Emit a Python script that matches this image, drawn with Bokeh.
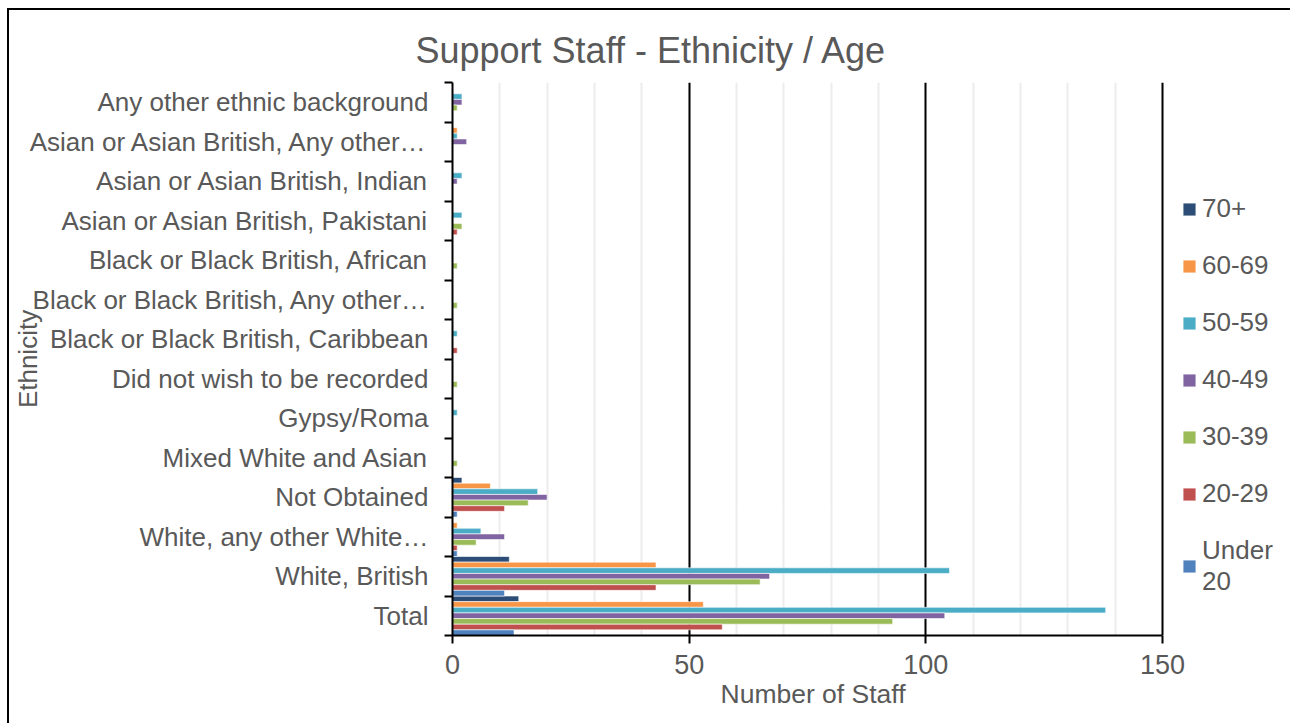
from bokeh.plotting import figure
from bokeh.models import (ColumnDataSource, FactorRange, Range1d, LinearAxis,
                          CategoricalAxis, FixedTicker, Legend, LegendItem, Title)
from bokeh.transform import dodge
from bokeh.embed import file_html
from bokeh.resources import INLINE

# Ethnic groups, listed top to bottom as they appear on the chart
ethnicities = [
    "Any other ethnic background",
    "Asian or Asian British, Any other\u2026",
    "Asian or Asian British, Indian",
    "Asian or Asian British, Pakistani",
    "Black or Black British, African",
    "Black or Black British, Any other\u2026",
    "Black or Black British, Caribbean",
    "Did not wish to be recorded",
    "Gypsy/Roma",
    "Mixed White and Asian",
    "Not Obtained",
    "White, any other White\u2026",
    "White, British",
    "Total",
]

# Age bands, in the order the bars are stacked inside each group (top first)
age_groups = ["70+", "60-69", "50-59", "40-49", "30-39", "20-29", "Under 20"]

# Staff counts per age band, one value per ethnic group (same order as above)
age_70_plus = [0, 0, 0, 0, 0, 0, 0, 0, 0, 0, 2, 0, 12, 14]
age_60_69 = [0, 1, 0, 0, 0, 0, 0, 0, 0, 0, 8, 1, 43, 53]
age_50_59 = [2, 1, 2, 2, 0, 0, 1, 0, 1, 0, 18, 6, 105, 138]
age_40_49 = [2, 3, 1, 0, 0, 0, 0, 0, 0, 0, 20, 11, 67, 104]
age_30_39 = [1, 0, 0, 2, 1, 1, 0, 1, 0, 1, 16, 5, 65, 93]
age_20_29 = [0, 0, 0, 1, 0, 0, 1, 0, 0, 0, 11, 1, 43, 57]
age_under_20 = [0, 0, 0, 0, 0, 0, 0, 0, 0, 0, 1, 1, 11, 13]

series = [age_70_plus, age_60_69, age_50_59, age_40_49,
          age_30_39, age_20_29, age_under_20]
colors = ["#2C4D75", "#F79646", "#4BACC6", "#8064A2",
          "#9BBB59", "#C0504D", "#4F81BD"]

x_ticks = [0, 50, 100, 150]
x_minor_ticks = [0, 10, 20, 30, 40, 50, 60, 70, 80, 90, 100, 110, 120, 130, 140, 150]

FONT = "Liberation Sans"
TEXT_COLOR = "#595959"

# Canvas layout: the frame runs on past the last tick so the legend can sit
# beside the bars; the value axis itself spans AXIS_PX pixels.
WIDTH, HEIGHT = 1283, 715
BORDER_L, BORDER_R, BORDER_T, BORDER_B = 443, 2, 72, 90
AXIS_PX = 710
FRAME_PX = WIDTH - BORDER_L - BORDER_R
x_end = x_ticks[-1] * FRAME_PX / AXIS_PX

data = {"ethnicity": ethnicities}
keys = []
for i, values in enumerate(series):
    key = "a%d" % i
    keys.append(key)
    data[key] = values
source = ColumnDataSource(data)

p = figure(
    width=WIDTH, height=HEIGHT,
    y_range=FactorRange(factors=ethnicities[::-1]),
    x_range=Range1d(x_ticks[0], x_end),
    x_axis_location=None, y_axis_location=None,
    output_backend="svg", toolbar_location=None,
    min_border_left=BORDER_L, min_border_right=BORDER_R,
    min_border_top=BORDER_T, min_border_bottom=BORDER_B,
    margin=(8, 0, 0, 7),
)
p.styles = {"border-left": "2px solid black", "border-top": "2px solid black"}
p.outline_line_color = None
p.background_fill_color = "white"
p.border_fill_color = "white"

# Title
p.title.text = "Support Staff - Ethnicity / Age"
p.title.align = "left"
p.title.offset = -37
p.title.text_font = FONT
p.title.text_font_size = "36px"
p.title.text_font_style = "normal"
p.title.text_color = TEXT_COLOR
p.title.standoff = 24

# Horizontal bars, one per age band within each ethnic group
n = len(age_groups)
bar_h = 1.0 / n
items = []
for i, (key, label, color) in enumerate(zip(keys, age_groups, colors)):
    offset = (n // 2 - i) * bar_h
    r = p.hbar(y=dodge("ethnicity", offset, range=p.y_range), right=key, left=0,
               height=bar_h, source=source, fill_color=color,
               line_color="white", line_width=1, line_alpha=0.6)
    items.append(LegendItem(label=label.replace(" ", "\n"), renderers=[r]))

# X axis with black major grid and pale minor grid
xticker = FixedTicker(ticks=x_ticks, minor_ticks=x_minor_ticks)
xaxis = LinearAxis(ticker=xticker, bounds=(x_ticks[0], x_ticks[-1]))
xaxis.axis_line_color = "black"
xaxis.axis_line_width = 2
xaxis.major_tick_line_color = "black"
xaxis.major_tick_line_width = 2
xaxis.major_tick_out = 8
xaxis.major_tick_in = 0
xaxis.minor_tick_line_color = None
xaxis.major_label_text_font = FONT
xaxis.major_label_text_font_size = "27px"
xaxis.major_label_text_color = TEXT_COLOR
xaxis.major_label_standoff = 11
p.add_layout(xaxis, "below")

# Value-axis caption, centred under the 0-150 span rather than the whole frame
x_caption = Title(text="Number of Staff", align="left", offset=268,
                  text_font=FONT, text_font_size="26.5px",
                  text_font_style="normal", text_color=TEXT_COLOR, standoff=0)
p.add_layout(x_caption, "below")

p.xgrid.ticker = xticker
p.xgrid.grid_line_color = "black"
p.xgrid.grid_line_width = 2
p.xgrid.minor_grid_line_color = "#ececec"
p.xgrid.minor_grid_line_width = 2
p.ygrid.grid_line_color = None

# Y axis: tick marks sit on the group boundaries, labels on group centres
tick_axis = LinearAxis(ticker=FixedTicker(ticks=list(range(len(ethnicities) + 1))))
tick_axis.axis_line_color = "black"
tick_axis.axis_line_width = 2
tick_axis.major_tick_line_color = "black"
tick_axis.major_tick_line_width = 2
tick_axis.major_tick_out = 8
tick_axis.major_tick_in = 0
tick_axis.minor_tick_line_color = None
tick_axis.major_label_text_font_size = "0px"
tick_axis.major_label_text_color = None
tick_axis.major_label_standoff = 0
p.add_layout(tick_axis, "left")

label_axis = CategoricalAxis(axis_label="Ethnicity")
label_axis.axis_line_color = None
label_axis.major_tick_line_color = None
label_axis.minor_tick_line_color = None
label_axis.major_label_standoff = 10
label_axis.major_label_text_font = FONT
label_axis.major_label_text_font_size = "26px"
label_axis.major_label_text_color = TEXT_COLOR
label_axis.axis_label_text_font = FONT
label_axis.axis_label_text_font_size = "26px"
label_axis.axis_label_text_font_style = "normal"
label_axis.axis_label_text_color = TEXT_COLOR
label_axis.axis_label_standoff = -16
p.add_layout(label_axis, "left")

legend = Legend(items=items, location=(729, 38))
legend.border_line_color = None
legend.background_fill_alpha = 0
legend.label_text_font = FONT
legend.label_text_font_size = "26px"
legend.label_text_color = TEXT_COLOR
legend.glyph_width = 16
legend.glyph_height = 16
legend.label_standoff = 5
legend.spacing = 26
legend.padding = 0
legend.margin = 0
p.add_layout(legend)

open("out.html", "w").write(file_html(p, INLINE))
